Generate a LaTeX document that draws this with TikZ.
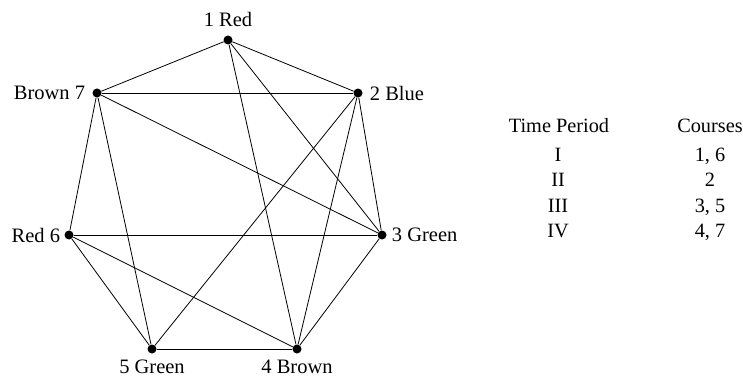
\documentclass[tikz,border=0pt]{standalone}
\usepackage{fontspec}
\setmainfont{Liberation Serif}
\usetikzlibrary{positioning}
\tikzset{
  cg vertex/.style={circle, fill=black, inner sep=0pt, minimum size=9pt},
  cg edge/.style={draw=black, line width=.8pt},
  cg label/.style={font=\fontsize{20.5}{24}\selectfont, inner sep=1pt},
  cg entry/.style={font=\fontsize{20.3}{24}\selectfont, inner sep=0pt, anchor=base}
}
\begin{document}
\begin{tikzpicture}[x=1pt,y=-1pt]
  \useasboundingbox (0,0) rectangle (743,379);

  % courses as vertices, colour = time period
  \node[cg vertex, label={[cg label, label distance=7pt]above:1 Red}] (c1) at (228,40) {};
  \node[cg vertex, label={[cg label, label distance=6pt]right:2 Blue}] (c2) at (358,93) {};
  \node[cg vertex, label={[cg label, label distance=4pt]right:3 Green}] (c3) at (382,235) {};
  \node[cg vertex, label={[cg label, label distance=5pt]below:4 Brown}] (c4) at (297,349) {};
  \node[cg vertex, label={[cg label, label distance=5pt]below:5 Green}] (c5) at (152,349) {};
  \node[cg vertex, label={[cg label, label distance=3pt]left:Red 6}] (c6) at (69,235) {};
  \node[cg vertex, label={[cg label, label distance=6pt]left:Brown 7}] (c7) at (97,93) {};

  \foreach \a/\b in {c1/c2, c1/c7, c1/c3, c1/c4, c2/c7, c2/c3, c2/c4, c2/c5,
                     c7/c3, c7/c6, c7/c5, c6/c3, c6/c5, c6/c4, c5/c4, c4/c3}
    \draw[cg edge] (\a) -- (\b);

  % schedule
  \node[cg entry] (hperiod) at (559,133) {Time Period};
  \node[cg entry] (hcourses) at (710,133) {Courses};
  \foreach \p/\c [count=\i] in {I/{1, 6}, II/2, III/{3, 5}, IV/{4, 7}} {
    \pgfmathsetmacro{\yb}{162 + 25*(\i-1)}
    \node[cg entry] (p\i) at (558,\yb) {\p};
    \node[cg entry] (s\i) at (710,\yb) {\c};
  }
\end{tikzpicture}
\end{document}
